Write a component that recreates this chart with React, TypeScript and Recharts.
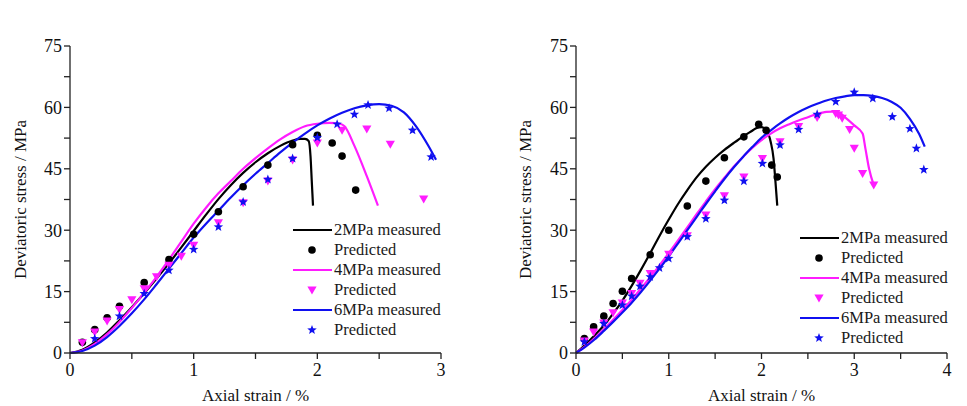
import React from "react";
import { ComposedChart, Line, Scatter, XAxis, YAxis, Legend } from "recharts";

const FONT = '"Liberation Serif", "Times New Roman", serif';

// axial strain (%) , deviatoric stress (MPa)
const L2_MEASURED: [number, number][] = [
  [0, 0], [0.1, 0.8], [0.2, 2.6], [0.3, 5.0], [0.4, 8.0], [0.5, 11.2], [0.6, 14.6],
  [0.7, 18.2], [0.8, 21.9], [0.9, 25.8], [1.0, 29.8], [1.1, 33.8], [1.2, 37.6],
  [1.3, 41.0], [1.4, 44.0], [1.5, 46.6], [1.6, 48.8], [1.7, 50.6], [1.8, 51.9],
  [1.86, 52.3], [1.9, 52.3], [1.93, 51.8], [1.945, 48], [1.955, 42], [1.965, 36],
];
const L2_PREDICTED: [number, number][] = [
  [0.1, 2.6], [0.2, 5.7], [0.3, 8.6], [0.4, 11.4], [0.6, 17.2], [0.8, 22.8], [1.0, 29.0],
  [1.2, 34.5], [1.4, 40.6], [1.6, 45.9], [1.8, 50.9], [2.0, 53.2], [2.12, 51.3],
  [2.2, 48.1], [2.31, 39.8],
];
const L4_MEASURED: [number, number][] = [
  [0, 0], [0.1, 0.6], [0.2, 2.2], [0.3, 4.6], [0.4, 7.6], [0.5, 11.0], [0.6, 14.7],
  [0.7, 18.6], [0.8, 22.8], [0.9, 27.2], [1.0, 31.6], [1.1, 35.5], [1.2, 39.0],
  [1.3, 42.0], [1.4, 45.0], [1.5, 47.6], [1.6, 50.0], [1.7, 52.2], [1.8, 54.0],
  [1.9, 55.4], [2.0, 56.0], [2.1, 56.2], [2.18, 56.0], [2.22, 55.4], [2.3, 50.6],
  [2.4, 43.2], [2.49, 36.0],
];
const L4_PREDICTED: [number, number][] = [
  [0.1, 2.5], [0.2, 5.1], [0.3, 7.8], [0.4, 10.6], [0.5, 13.0], [0.6, 15.7], [0.7, 18.6],
  [0.8, 21.4], [0.9, 23.6], [1.0, 26.3], [1.2, 31.8], [1.4, 36.7], [1.6, 42.0],
  [1.8, 47.1], [2.0, 51.3], [2.2, 54.4], [2.4, 54.7], [2.59, 51.0], [2.86, 37.6],
];
const L6_MEASURED: [number, number][] = [
  [0, 0], [0.1, 0.5], [0.2, 1.8], [0.3, 3.9], [0.4, 6.6], [0.5, 9.7], [0.6, 13.1],
  [0.7, 16.8], [0.8, 20.6], [0.9, 24.4], [1.0, 28.2], [1.1, 31.6], [1.2, 34.8],
  [1.3, 38.0], [1.4, 41.0], [1.5, 43.8], [1.6, 46.4], [1.7, 49.0], [1.8, 51.4],
  [1.9, 53.6], [2.0, 55.6], [2.1, 57.3], [2.2, 58.7], [2.3, 59.8], [2.4, 60.5],
  [2.5, 60.8], [2.6, 60.4], [2.7, 58.8], [2.8, 55.3], [2.9, 50.5], [2.96, 47.2],
];
const L6_PREDICTED: [number, number][] = [
  [0.2, 3.5], [0.4, 9.0], [0.6, 14.5], [0.8, 20.2], [1.0, 25.3], [1.2, 30.8], [1.4, 36.9],
  [1.6, 42.4], [1.8, 47.5], [2.0, 52.6], [2.16, 55.9], [2.3, 58.3], [2.41, 60.6],
  [2.58, 59.8], [2.77, 54.4], [2.92, 47.9],
];

const R2_MEASURED: [number, number][] = [
  [0, 0], [0.1, 2.0], [0.2, 4.3], [0.3, 6.7], [0.4, 9.6], [0.5, 12.8], [0.6, 16.4],
  [0.7, 20.3], [0.8, 24.4], [0.9, 28.6], [1.0, 32.6], [1.1, 36.4], [1.2, 39.8],
  [1.3, 42.9], [1.4, 45.5], [1.5, 47.7], [1.6, 49.6], [1.7, 51.3], [1.8, 52.9],
  [1.9, 54.3], [1.95, 55.0], [2.0, 55.2], [2.05, 54.5], [2.1, 51.5], [2.13, 47.5],
  [2.15, 42], [2.17, 36],
];
const R2_PREDICTED: [number, number][] = [
  [0.09, 3.5], [0.19, 6.4], [0.3, 9.0], [0.4, 12.1], [0.5, 15.1], [0.6, 18.2], [0.8, 24.0],
  [1.0, 30.0], [1.2, 35.9], [1.4, 42.0], [1.6, 47.7], [1.81, 52.8], [1.97, 55.9],
  [2.05, 54.4], [2.11, 45.9], [2.17, 43.0],
];
const R4_MEASURED: [number, number][] = [
  [0, 0], [0.1, 1.6], [0.2, 3.6], [0.3, 5.8], [0.4, 8.1], [0.5, 10.5], [0.6, 13.0],
  [0.7, 15.7], [0.8, 18.5], [0.9, 21.4], [1.0, 24.4], [1.1, 27.5], [1.2, 30.7],
  [1.3, 33.9], [1.4, 37.0], [1.5, 40.0], [1.6, 42.8], [1.7, 45.5], [1.8, 47.9],
  [1.9, 50.1], [2.0, 52.0], [2.1, 53.6], [2.2, 54.9], [2.3, 55.9], [2.4, 56.8],
  [2.5, 57.6], [2.6, 58.4], [2.7, 58.9], [2.8, 59.0], [2.85, 58.6], [2.9, 57.6],
  [3.0, 55.6], [3.09, 53.6], [3.12, 50], [3.16, 45], [3.21, 41],
];
const R4_PREDICTED: [number, number][] = [
  [0.09, 2.9], [0.19, 5.1], [0.3, 7.3], [0.4, 9.8], [0.5, 12.2], [0.6, 14.5], [0.69, 17.0],
  [0.8, 19.4], [1.0, 24.1], [1.2, 28.6], [1.4, 33.7], [1.6, 38.4], [1.81, 43.0],
  [2.01, 47.5], [2.2, 51.6], [2.4, 55.3], [2.6, 57.5], [2.8, 58.5], [2.83, 58.1],
  [2.87, 57.3], [2.95, 54.6], [3.0, 50.0], [3.09, 43.8], [3.21, 41.0],
];
const R6_MEASURED: [number, number][] = [
  [0, 0], [0.1, 1.5], [0.2, 3.3], [0.3, 5.4], [0.4, 7.6], [0.5, 9.9], [0.6, 12.3],
  [0.7, 14.9], [0.8, 17.7], [0.9, 20.6], [1.0, 23.6], [1.1, 26.8], [1.2, 30.0],
  [1.3, 33.2], [1.4, 36.4], [1.5, 39.5], [1.6, 42.5], [1.7, 45.3], [1.8, 47.9],
  [1.9, 50.3], [2.0, 52.6], [2.1, 54.4], [2.2, 56.1], [2.3, 57.6], [2.4, 58.9],
  [2.5, 60.0], [2.6, 60.9], [2.7, 61.7], [2.8, 62.3], [2.9, 62.7], [3.0, 63.0],
  [3.1, 63.0], [3.2, 62.8], [3.3, 62.3], [3.4, 61.4], [3.5, 59.9], [3.6, 57.2],
  [3.7, 53.5], [3.76, 50.4],
];
const R6_PREDICTED: [number, number][] = [
  [0.09, 2.7], [0.3, 7.2], [0.5, 11.7], [0.6, 13.9], [0.69, 16.3], [0.8, 18.6], [0.9, 20.8],
  [1.0, 23.1], [1.2, 28.4], [1.4, 32.8], [1.6, 37.3], [1.81, 42.0], [2.01, 46.3],
  [2.2, 50.8], [2.4, 54.6], [2.6, 58.3], [2.8, 61.4], [3.0, 63.7], [3.2, 62.2],
  [3.41, 57.7], [3.6, 54.8], [3.67, 50.0], [3.75, 44.8],
];

const Y_TICKS = [0, 7.5, 15, 22.5, 30, 37.5, 45, 52.5, 60, 67.5, 75];
const X_TICKS_LEFT = [0, 0.5, 1, 1.5, 2, 2.5, 3];
const X_TICKS_RIGHT = [0, 0.5, 1, 1.5, 2, 2.5, 3, 3.5, 4];
const LEGEND_NAMES = ["2MPa measured", "4MPa measured", "6MPa measured"];
const COLORS = ["#000000", "#ff1cff", "#1010f0"];
const MARKERS = ["circle", "tri", "star"];

const toPts = (arr: [number, number][]) => arr.map(([x, y]) => ({ x, y }));

function Marker({ kind, cx, cy, color }: any) {
  if (kind === "circle") return <circle cx={cx} cy={cy} r={3.8} fill={color} />;
  if (kind === "tri")
    return (
      <polygon
        points={`${cx - 4.6},${cy - 3.6} ${cx + 4.6},${cy - 3.6} ${cx},${cy + 4.4}`}
        fill={color}
      />
    );
  const pts: string[] = [];
  for (let i = 0; i < 10; i++) {
    const r = i % 2 === 0 ? 5 : 2.1;
    const a = -Math.PI / 2 + (i * Math.PI) / 5;
    pts.push(`${cx + r * Math.cos(a)},${cy + r * Math.sin(a)}`);
  }
  return <polygon points={pts.join(" ")} fill={color} />;
}

function LegendBox() {
  const rows: React.ReactNode[] = [];
  LEGEND_NAMES.forEach((name, i) => {
    rows.push(
      <div key={name} style={{ display: "flex", alignItems: "center", height: 20 }}>
        <svg width={40} height={20}>
          <line x1={0} y1={10} x2={39} y2={10} stroke={COLORS[i]} strokeWidth={2.2} />
        </svg>
        <span style={{ marginLeft: 1 }}>{name}</span>
      </div>
    );
    rows.push(
      <div key={name + "p"} style={{ display: "flex", alignItems: "center", height: 20 }}>
        <svg width={40} height={20}>
          <Marker kind={MARKERS[i]} cx={19} cy={10} color={COLORS[i]} />
        </svg>
        <span style={{ marginLeft: 1 }}>Predicted</span>
      </div>
    );
  });
  return (
    <div style={{ fontFamily: FONT, fontSize: 16.5, color: "#1a1a1a", lineHeight: "20px", whiteSpace: "nowrap" }}>
      {rows}
    </div>
  );
}

type PanelProps = {
  left: number;
  width: number;
  yAxisWidth: number;
  marginRight: number;
  xMax: number;
  xTicks: number[];
  measured: [number, number][][];
  predicted: [number, number][][];
  legendLeft: number;
  legendTop: number;
  titleOffset: number;
};

function Panel(p: PanelProps) {
  const tickStyle = { fontFamily: FONT, fontSize: 18, fill: "#111" };
  const titleStyle = { fontFamily: FONT, fontSize: 17, fill: "#111", textAnchor: "middle" as const };
  return (
    <div style={{ position: "absolute", left: p.left, top: 0 }}>
      <ComposedChart
        width={p.width}
        height={406}
        margin={{ top: 46, right: p.marginRight, bottom: 0, left: 0 }}
      >
        <XAxis
          dataKey="x"
          type="number"
          domain={[0, p.xMax]}
          ticks={p.xTicks}
          tickFormatter={(v: number) => (Number.isInteger(v) ? String(v) : "")}
          height={53}
          tick={tickStyle}
          tickSize={6}
          tickMargin={4}
          stroke="#222"
          strokeWidth={1.3}
          label={{ value: "Axial strain / %", position: "insideBottom", offset: 5, style: titleStyle }}
        />
        <YAxis
          dataKey="y"
          type="number"
          domain={[0, 75]}
          ticks={Y_TICKS}
          tickFormatter={(v: number) => (v % 15 === 0 ? String(v) : "")}
          width={p.yAxisWidth}
          tick={tickStyle}
          tickSize={6}
          tickMargin={2}
          stroke="#222"
          strokeWidth={1.3}
          label={{
            value: "Deviatoric stress / MPa",
            angle: -90,
            position: "insideLeft",
            offset: p.titleOffset,
            style: titleStyle,
          }}
        />
        {p.measured.map((d, i) => (
          <Line
            key={"m" + i}
            data={toPts(d)}
            dataKey="y"
            type="monotone"
            stroke={COLORS[i]}
            strokeWidth={2.2}
            dot={false}
            activeDot={false}
            isAnimationActive={false}
          />
        ))}
        {p.predicted.map((d, i) => (
          <Scatter
            key={"p" + i}
            data={toPts(d)}
            dataKey="y"
            fill={COLORS[i]}
            isAnimationActive={false}
            shape={(s: any) => <Marker kind={MARKERS[i]} cx={s.cx} cy={s.cy} color={COLORS[i]} />}
          />
        ))}
        <Legend
          layout="vertical"
          align="center"
          verticalAlign="middle"
          content={() => <LegendBox />}
          wrapperStyle={{ left: p.legendLeft, top: p.legendTop, width: "auto" }}
        />
      </ComposedChart>
    </div>
  );
}

export default function App() {
  return (
    <div style={{ position: "absolute", left: 0, top: 0, width: 967, height: 406, background: "#fff" }}>
      <Panel
        left={0}
        width={480}
        yAxisWidth={70}
        marginRight={39}
        xMax={3}
        xTicks={X_TICKS_LEFT}
        measured={[L2_MEASURED, L4_MEASURED, L6_MEASURED]}
        predicted={[L2_PREDICTED, L4_PREDICTED, L6_PREDICTED]}
        legendLeft={293}
        legendTop={220}
        titleOffset={20}
      />
      <Panel
        left={490}
        width={477}
        yAxisWidth={86}
        marginRight={20}
        xMax={4}
        xTicks={X_TICKS_RIGHT}
        measured={[R2_MEASURED, R4_MEASURED, R6_MEASURED]}
        predicted={[R2_PREDICTED, R4_PREDICTED, R6_PREDICTED]}
        legendLeft={310}
        legendTop={228}
        titleOffset={35}
      />
    </div>
  );
}
